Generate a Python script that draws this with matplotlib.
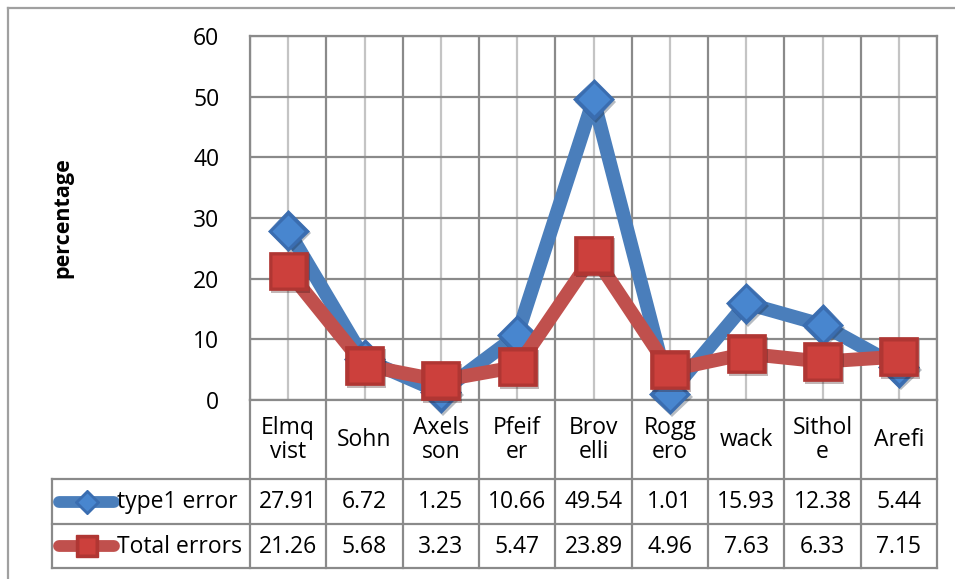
import matplotlib
matplotlib.use("Agg")
import matplotlib.pyplot as plt
import matplotlib.patheffects as pe
from matplotlib.lines import Line2D
import numpy as np

# ---- data -------------------------------------------------------------
categories = ["Elmq\nvist", "Sohn", "Axels\nson", "Pfeif\ner", "Brov\nelli",
              "Rogg\nero", "wack", "Sithol\ne", "Arefi"]
type1_error = [27.91, 6.72, 1.25, 10.66, 49.54, 1.01, 15.93, 12.38, 5.44]
total_errors = [21.26, 5.68, 3.23, 5.47, 23.89, 4.96, 7.63, 6.33, 7.15]
series_names = ["type1 error", "Total errors"]
y_ticks = [0, 10, 20, 30, 40, 50, 60]

# ---- figure / layout (pixel based) -----------------------------------
plt.rcParams['font.family'] = ['Open Sans', 'DejaVu Sans']
W, H = 955, 579
fig = plt.figure(figsize=(W / 100, H / 100), dpi=100)


def fbox(x0, y0, x1, y1):
    """pixel box with top-left origin -> figure rectangle"""
    return [x0 / W, 1 - y1 / H, (x1 - x0) / W, (y1 - y0) / H]


GRID_DARK = "#8a8a8a"
GRID_LIGHT = "#c4c4c4"
FS = 16.5

PL, PR, PT, PB = 250, 937, 36, 400          # plot area
TL, TB = 52, 568                              # table left / bottom
ROWS = [PB, 479, 524, TB]                     # table row boundaries

n = len(categories)
xs = np.arange(n)
unit = (PR - PL) / n

# outer chart frame (top and left edges)
fig.add_artist(Line2D([8 / W, 1], [1 - 8 / H, 1 - 8 / H], transform=fig.transFigure,
                      color="#a0a0a0", lw=1.6))
fig.add_artist(Line2D([8 / W, 8 / W], [0, 1 - 8 / H], transform=fig.transFigure,
                      color="#a0a0a0", lw=1.6))

ax = fig.add_axes(fbox(PL, PT, PR, PB))
ax.set_xlim(-0.5, n - 0.5)
ax.set_ylim(0, 60)
ax.set_xticks(np.arange(n + 1) - 0.5)
ax.set_xticks(xs, minor=True)
ax.set_yticks(y_ticks)
ax.tick_params(axis="x", which="both", length=0, labelbottom=False)
ax.tick_params(axis="y", length=0, pad=22, labelsize=FS)
ax.grid(True, which="major", axis="both", color=GRID_DARK, lw=1.6, zorder=0)
ax.grid(True, which="minor", axis="x", color=GRID_LIGHT, lw=1.6, zorder=0)
for s in ax.spines.values():
    s.set_color(GRID_DARK)
    s.set_linewidth(1.6)
ax.set_axisbelow(True)

ax.text(-0.5 - (PL - 63) / unit, 30, "percentage", rotation=90, ha="center",
        va="center", fontsize=15.5, fontweight="bold")


def draw_series(a, x, y, line_c, outer_c, inner_c, marker, ms, z):
    a.plot(x, y, color=line_c, lw=10, solid_joinstyle="round",
           solid_capstyle="round", zorder=z, clip_on=False)
    a.plot(x, y, ls="none", marker=marker, ms=ms, mfc=outer_c, mec=outer_c,
           mew=0.5, zorder=z + 0.1, clip_on=False,
           path_effects=[pe.SimplePatchShadow(offset=(1.5, -2), alpha=0.3),
                         pe.Normal()])
    a.plot(x, y, ls="none", marker=marker, ms=ms * 0.8, mfc=inner_c,
           mec="none", zorder=z + 0.2, clip_on=False)


BLUE = ("#4a7ebb", "#3a6db0", "#4886cf")
RED = ("#c0504d", "#b03633", "#cc403c")

draw_series(ax, xs, type1_error, *BLUE, "D", 21, 3)
draw_series(ax, xs, total_errors, *RED, "s", 28, 4)

# ---- data table ------------------------------------------------------
axt = fig.add_axes(fbox(TL, PB, PR, TB))
xl = -0.5 - (PL - TL) / unit
axt.set_xlim(xl, n - 0.5)
axt.set_ylim(TB, PB)
axt.axis("off")


def px2x(px):
    return xl + (px - TL) / unit


bounds = np.arange(n + 1) - 0.5
for b in bounds:
    axt.plot([b, b], [ROWS[0], ROWS[-1]], color=GRID_DARK, lw=1.6, clip_on=False)
axt.plot([xl, xl], [ROWS[1], ROWS[-1]], color=GRID_DARK, lw=1.6, clip_on=False)
for r in ROWS[1:]:
    axt.plot([xl, n - 0.5], [r, r], color=GRID_DARK, lw=1.6, clip_on=False)

hdr_y = (ROWS[0] + ROWS[1]) / 2
for xi, c in zip(xs, categories):
    axt.text(xi, hdr_y + 1, c, ha="center", va="center", fontsize=FS,
             linespacing=1.0)

rows = [type1_error, total_errors]
styles = [(BLUE, "D", 12), (RED, "s", 16)]
for k, (vals, name, (cols, mk, ms)) in enumerate(zip(rows, series_names, styles)):
    yc = (ROWS[k + 1] + ROWS[k + 2]) / 2
    for xi, v in zip(xs, vals):
        axt.text(xi, yc + 1, f"{v:.2f}", ha="center", va="center", fontsize=FS)
    axt.plot([px2x(59), px2x(114)], [yc, yc], color=cols[0], lw=8.5,
             solid_capstyle="round", clip_on=False)
    axt.plot([px2x(86.5)], [yc], ls="none", marker=mk, ms=ms, mfc=cols[1],
             mec=cols[1], clip_on=False)
    axt.plot([px2x(86.5)], [yc], ls="none", marker=mk, ms=ms * 0.75, mfc=cols[2],
             mec="none", clip_on=False)
    axt.text(px2x(117), yc + 1, name, ha="left", va="center", fontsize=FS)

fig.savefig("out.png", dpi=100)
